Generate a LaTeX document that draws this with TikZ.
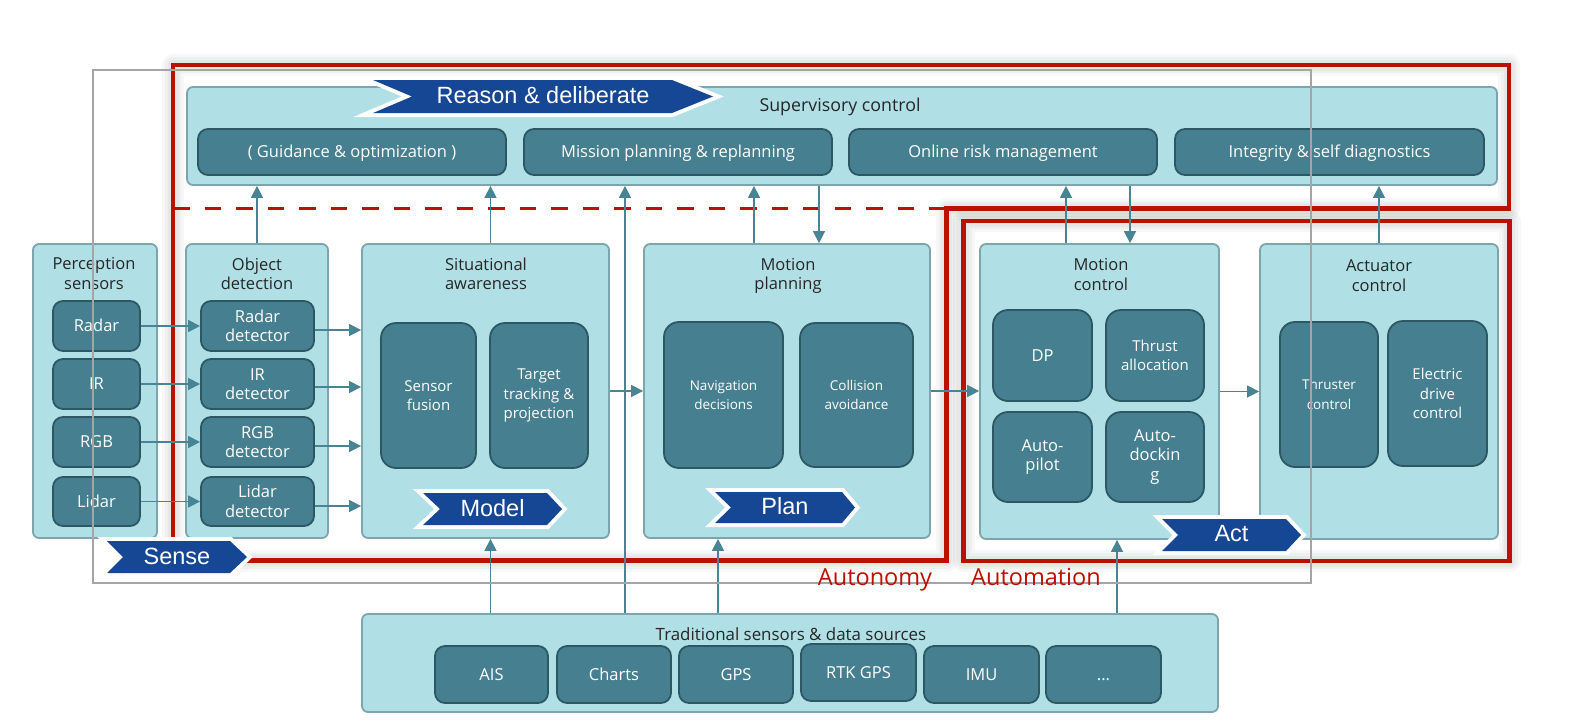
\documentclass[tikz,border=0pt]{standalone}
\usepackage{fontspec}
\setmainfont{Open Sans}
\newfontfamily\chevfont{Liberation Sans}
\usetikzlibrary{arrows.meta,calc}
\definecolor{lfill}{RGB}{176,224,230}
\definecolor{lborder}{RGB}{125,165,173}
\definecolor{dfill}{RGB}{70,127,143}
\definecolor{dborder}{RGB}{44,88,100}
\definecolor{arrc}{RGB}{72,132,148}
\definecolor{redc}{RGB}{188,16,0}
\definecolor{chevblue}{RGB}{22,71,148}
\definecolor{grayc}{RGB}{165,165,165}
\newcommand{\fA}{\fontsize{16.5}{19.5}\selectfont}
\newcommand{\fB}{\fontsize{15}{17.5}\selectfont}
\newcommand{\fC}{\fontsize{13.5}{16}\selectfont}
\newcommand{\fD}{\fontsize{23.5}{28}\selectfont}
\newcommand{\fE}{\fontsize{17.8}{21}\selectfont}
\newcommand{\mybox}[7]{\node[#1, minimum width={(#5)-(#3)}, minimum height={(#6)-(#4)}] (#2) at ({((#3)+(#5))/2},{((#4)+(#6))/2}) {#7};}
\newcommand{\chevron}[8]{%
  \draw[white, line width=8, line join=miter, fill=white] (#1,#5) -- (#3,#5) -- (#4,{((#5)+(#6))/2}) -- (#3,#6) -- (#1,#6) -- (#2,{((#5)+(#6))/2}) -- cycle;
  \fill[chevblue] (#1,#5) -- (#3,#5) -- (#4,{((#5)+(#6))/2}) -- (#3,#6) -- (#1,#6) -- (#2,{((#5)+(#6))/2}) -- cycle;
  \node[chevtext] (#7) at ({((#1)+(#4))/2},{((#5)+(#6))/2-1}) {#8};}
\newcommand{\autopath}{(173,65) -- (1509,65) -- (1509,208.5) -- (946.5,208.5) -- (946.5,560.5) -- (173,560.5) -- cycle}
\tikzset{
  lbox/.style={draw=lborder, fill=lfill, line width=1.8, rounded corners=6, inner sep=0},
  dbox/.style={draw=dborder, fill=dfill, line width=1.8, rounded corners=10, text=white, align=center, font=\fA, inner sep=0},
  one/.style={dbox, text height=11.8pt, text depth=0pt},
  dbig/.style={dbox, rounded corners=15},
  ttl/.style={align=center, font=\fA, text=black!85, inner sep=0},
  arr/.style={draw=arrc, line width=1.5, -{Triangle[length=12pt,width=12pt]}},
  chevtext/.style={text=white, font=\chevfont\fD, inner sep=0},
  redbox/.style={draw=redc, line width=4.5, line join=miter},
  glow/.style={draw=black, line join=round, opacity=0.03},
  redlbl/.style={text=redc, font=\fD, inner sep=0}
}
\begin{document}
\begin{tikzpicture}[x=1pt,y=-1pt]
\useasboundingbox (0,0) rectangle (1579,724);
\fill[white] (0,0) rectangle (1579,724);
% soft shadows of the red regions
\foreach \w in {22,16,11} {
  \draw[glow, line width=\w] \autopath;
  \draw[glow, line width=\w] (963.5,221) rectangle (1509.5,561);
}
% red regions
\draw[redbox] \autopath;
\draw[draw=redc, line width=3.5, dash pattern=on 16.5pt off 15pt] (173,208.5) -- (946.5,208.5);
\draw[redbox] (963.5,221) rectangle (1509.5,561);
% containers
\mybox{lbox}{sup}{187}{87}{1497}{185}{}
\mybox{lbox}{ps}{33}{244}{157}{538}{}
\mybox{lbox}{od}{186}{244}{328}{538}{}
\mybox{lbox}{sa}{362}{244}{609}{538}{}
\mybox{lbox}{mp}{644}{244}{930}{538}{}
\mybox{lbox}{mc}{980}{244}{1219}{539}{}
\mybox{lbox}{ac}{1260}{244}{1498}{539}{}
\mybox{lbox}{trad}{362}{614}{1218}{712}{}
% titles
\node[ttl, font=\fE] (supT) at (840,107) {Supervisory control};
\node[ttl] (psT) at (94,273.5) {Perception\\sensors};
\node[ttl] (odT) at (257,274) {Object\\detection};
\node[ttl] (saT) at (486,274) {Situational\\awareness};
\node[ttl] (mpT) at (788,276) {Motion\\planning};
\node[ttl] (mcT) at (1101,274.5) {Motion\\control};
\node[ttl] (acT) at (1379,275.5) {Actuator\\control};
\node[ttl, font=\fontsize{16.9}{20}\selectfont] (tradT) at (791,634) {Traditional sensors \& data sources};
% supervisory children
\mybox{one}{guid}{198}{129}{506}{175}{( Guidance \& optimization )}
\mybox{one}{miss}{524}{129}{832}{175}{Mission planning \& replanning}
\mybox{one}{risk}{849}{129}{1157}{175}{Online risk management}
\mybox{one}{integ}{1175}{129}{1484}{175}{Integrity \& self diagnostics}
% sensors
\mybox{one}{radar}{53}{301}{140}{351}{Radar}
\mybox{one}{ir}{53}{359}{140}{409}{IR}
\mybox{one}{rgb}{53}{417}{140}{467}{RGB}
\mybox{one}{lidar}{53}{477}{140}{526}{Lidar}
% detectors
\mybox{dbox}{rd}{201}{301}{314}{351}{Radar\\detector}
\mybox{dbox}{ird}{201}{359}{314}{409}{IR\\detector}
\mybox{dbox}{rgbd}{201}{417}{314}{467}{RGB\\detector}
\mybox{dbox}{lidd}{201}{477}{314}{526}{Lidar\\detector}
% situational awareness
\mybox{dbig}{sf}{381}{323}{476}{468}{\fB Sensor\\\fB fusion}
\mybox{dbig}{tt}{490}{323}{588}{468}{\fB Target\\\fB tracking \&\\\fB projection}
% motion planning
\mybox{dbig}{nav}{664}{322}{783}{468}{\fC Navigation\\\fC decisions}
\mybox{dbig}{col}{800}{323}{913}{467}{\fC Collision\\\fC avoidance}
% motion control
\mybox{dbig}{dp}{993}{310}{1092}{401}{DP}
\mybox{dbig}{thr}{1106}{310}{1204}{401}{\fB Thrust\\\fB allocation}
\mybox{dbig}{ap}{993}{412}{1092}{502}{Auto-\\pilot}
\mybox{dbig}{ad}{1106}{412}{1204}{502}{Auto-\\dockin\\g}
% actuator control
\mybox{dbig}{tc}{1280}{322}{1378}{467}{\fC Thruster\\\fC control}
\mybox{dbig}{ed}{1388}{321}{1487}{466}{\fB Electric\\\fB drive\\\fB control}
% traditional sensors
\mybox{one}{ais}{435}{646}{548}{703}{AIS}
\mybox{one}{charts}{557}{646}{671}{703}{Charts}
\mybox{one}{gps}{679}{646}{793}{703}{GPS}
\mybox{one}{rtk}{801}{644}{916}{701}{RTK GPS}
\mybox{one}{imu}{924}{646}{1039}{703}{IMU}
\mybox{one}{more}{1046}{646}{1161}{703}{...}
% connectors
\draw[arr] (radar.east) -- (rd.west);
\draw[arr] (ir.east) -- (ird.west);
\draw[arr] (rgb.east) -- (rgbd.west);
\draw[arr] (lidar.east) -- (lidd.west);
\draw[arr] ([yshift=-4pt]rd.east) -- ([yshift=-4pt]rd.east -| sa.west);
\draw[arr] ([yshift=-3pt]ird.east) -- ([yshift=-3pt]ird.east -| sa.west);
\draw[arr] ([yshift=-4pt]rgbd.east) -- ([yshift=-4pt]rgbd.east -| sa.west);
\draw[arr] ([yshift=-4.5pt]lidd.east) -- ([yshift=-4.5pt]lidd.east -| sa.west);
\draw[arr] (od.north) -- (od.north |- sup.south);
\draw[arr] ([xshift=5pt]sa.north) -- ([xshift=5pt]sa.north |- sup.south);
\draw[arr] ([xshift=-33pt]mp.north) -- ([xshift=-33pt]mp.north |- sup.south);
\draw[arr] ([xshift=32pt]mp.north |- sup.south) -- ([xshift=32pt]mp.north);
\draw[arr] ([xshift=-33.5pt]mc.north) -- ([xshift=-33.5pt]mc.north |- sup.south);
\draw[arr] ([xshift=30.5pt]mc.north |- sup.south) -- ([xshift=30.5pt]mc.north);
\draw[arr] (ac.north) -- (ac.north |- sup.south);
\draw[arr] (sa.east) -- (mp.west);
\draw[arr] (mp.east) -- (mp.east -| mc.west);
\draw[arr] (mc.east) -- (mc.east -| ac.west);
\coordinate (gapSM) at ($(sa.east)!0.5!(mp.west)$);
\draw[arr] ([xshift=-1.5pt]gapSM |- trad.north) -- ([xshift=-1.5pt]gapSM |- sup.south);
\draw[arr] ([xshift=5pt]sa.south |- trad.north) -- ([xshift=5pt]sa.south);
\draw[arr] ([xshift=-69pt]mp.south |- trad.north) -- ([xshift=-69pt]mp.south);
\draw[arr] ([xshift=17.5pt]mc.south |- trad.north) -- ([xshift=17.5pt]mc.south);
% chevrons
\chevron{373}{412}{672}{713}{80}{113}{reasonL}{Reason \& deliberate}
\chevron{107}{123}{230}{247}{541}{573}{senseL}{Sense}
\chevron{423}{440}{547}{562}{493}{525}{modelL}{Model}
\chevron{715}{731}{842}{855}{492}{523}{planL}{Plan}
\chevron{1162}{1178}{1286}{1301}{519}{551}{actL}{Act}
% thin gray frame
\draw[grayc, line width=1.2] (93,70) rectangle (1311,583);
% region labels
\node[redlbl] (autonomyL) at (875,580) {Autonomy};
\node[redlbl] (automationL) at (1036,577) {Automation};
\end{tikzpicture}
\end{document}
